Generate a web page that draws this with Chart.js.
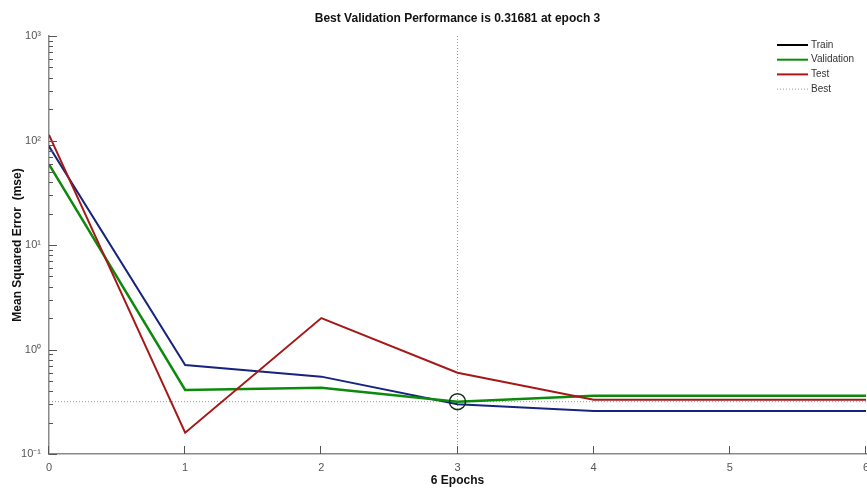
<!DOCTYPE html>
<html>
<head>
<meta charset="utf-8">
<script src="https://cdn.jsdelivr.net/npm/chart.js@4"></script>
<style>
  html, body { margin: 0; padding: 0; background: #fff; }
  canvas { display: block; }
</style>
</head>
<body>
<canvas id="perfChart" width="867" height="488"></canvas>
<script>
// data
const epochs = [0, 1, 2, 3, 4, 5, 6]
const trainPerf = [88, 0.71, 0.55, 0.30, 0.258, 0.258, 0.258]
const valPerf = [59, 0.41, 0.43, 0.31681, 0.36, 0.36, 0.36]
const testPerf = [113, 0.16, 2.0, 0.60, 0.33, 0.33, 0.33]
const bestEpoch = 3
const bestPerf = 0.31681
const yMin = 0.1
const yMax = 1000
const legendNames = ['Train', 'Validation', 'Test', 'Best']

const fontFam = "'Liberation Sans', Arial, sans-serif"
const axisGrey = '#8a8a8a'
const sup = { '-': '\u207B', '0': '\u2070', '1': '\u00B9', '2': '\u00B2', '3': '\u00B3' }

const pts = (ys) => epochs.map((e, i) => ({ x: e, y: ys[i] }))

// MATLAB style ticks pointing into the plot
const innerTicks = {
    id: 'innerTicks',
    afterDraw(chart) {
        const c = chart.ctx
        const a = chart.chartArea
        const ys = chart.scales.y
        const xs = chart.scales.x
        c.save()
        c.strokeStyle = '#555'
        c.lineWidth = 1
        c.beginPath()
        ys.ticks.forEach(t => {
            const p = Math.round(ys.getPixelForValue(t.value)) + 0.5
            const major = Math.abs(Math.log10(t.value) - Math.round(Math.log10(t.value))) < 1e-6
            c.moveTo(a.left, p)
            c.lineTo(a.left + (major ? 8 : 4), p)
        })
        xs.ticks.forEach(t => {
            const p = Math.round(xs.getPixelForValue(t.value)) - 0.5
            c.moveTo(p, a.bottom)
            c.lineTo(p, a.bottom - 8)
        })
        c.stroke()
        c.restore()
    }
}

const boxLegend = {
    id: 'boxLegend',
    afterDraw(chart) {
        const c = chart.ctx
        const a = chart.chartArea
        const cols = ['#000000', '#0c8a0c', '#b01515', '#999999']
        c.save()
        c.font = '10px ' + fontFam
        c.textBaseline = 'middle'
        legendNames.forEach((n, i) => {
            const y = a.top + 9 + i * 14.7
            c.beginPath()
            c.strokeStyle = cols[i]
            c.lineWidth = i == 3 ? 1 : 2
            c.setLineDash(i == 3 ? [1, 2] : [])
            c.moveTo(a.right - 89, y)
            c.lineTo(a.right - 58, y)
            c.stroke()
            c.fillStyle = '#333'
            c.fillText(n, a.right - 55, y)
        })
        c.restore()
    }
}

new Chart(document.getElementById('perfChart'), {
    type: 'line',
    data: {
        datasets: [
            {
                label: 'BestPoint',
                data: [{ x: bestEpoch, y: bestPerf }],
                showLine: false,
                pointRadius: 8,
                pointBorderWidth: 1.5,
                pointBorderColor: '#103010',
                pointBackgroundColor: 'rgba(0,0,0,0)',
                order: 0
            },
            {
                label: 'Test',
                data: pts(testPerf),
                borderColor: '#a51818',
                borderWidth: 2,
                pointRadius: 0,
                order: 1
            },
            {
                label: 'Validation',
                data: pts(valPerf),
                borderColor: '#0c8a0c',
                borderWidth: 2.5,
                pointRadius: 0,
                order: 2
            },
            {
                label: 'Train',
                data: pts(trainPerf),
                borderColor: '#16247e',
                borderWidth: 2,
                pointRadius: 0,
                order: 3
            },
            {
                label: 'Best',
                data: [{ x: epochs[0], y: bestPerf }, { x: epochs[epochs.length - 1], y: bestPerf }],
                borderColor: '#9a9a9a',
                borderWidth: 1,
                borderDash: [1, 2],
                pointRadius: 0,
                order: 4
            },
            {
                label: 'BestV',
                data: [{ x: bestEpoch, y: yMin }, { x: bestEpoch, y: yMax }],
                borderColor: '#9a9a9a',
                borderWidth: 1,
                borderDash: [1, 2],
                pointRadius: 0,
                order: 4
            }
        ]
    },
    options: {
        responsive: false,
        animation: false,
        layout: { autoPadding: false, padding: { left: 0, right: 1, bottom: 0, top: 0 } },
        plugins: {
            legend: { display: false },
            tooltip: { enabled: false },
            title: {
                display: true,
                text: 'Best Validation Performance is ' + bestPerf + ' at epoch ' + bestEpoch,
                fullSize: false,
                color: '#111',
                font: { family: fontFam, size: 12, weight: 'bold' },
                padding: { top: 11, bottom: 10.6 }
            }
        },
        scales: {
            x: {
                type: 'linear',
                min: 0,
                max: 6,
                ticks: {
                    stepSize: 1,
                    color: '#555',
                    padding: 7,
                    maxRotation: 0,
                    font: { family: fontFam, size: 11 }
                },
                grid: { drawOnChartArea: false, drawTicks: false },
                border: { color: axisGrey, width: 1.5 },
                title: {
                    display: true,
                    text: epochs[epochs.length - 1] + ' Epochs',
                    color: '#111',
                    padding: { top: 0, bottom: 0 },
                    font: { family: fontFam, size: 12, weight: 'bold' }
                },
                afterFit(s) {
                    s.height = 34
                    s.paddingLeft = 0
                    s.paddingRight = 0
                }
            },
            y: {
                type: 'logarithmic',
                min: yMin,
                max: yMax,
                afterBuildTicks(s) {
                    const t = []
                    for (let e = -1; e < 3; e++) {
                        for (let m = 1; m < 10; m++) t.push({ value: m * Math.pow(10, e) })
                    }
                    t.push({ value: yMax })
                    s.ticks = t
                },
                ticks: {
                    color: '#555',
                    padding: 8,
                    autoSkip: false,
                    font: { family: fontFam, size: 11 },
                    callback(v) {
                        const l = Math.log10(v)
                        if (Math.abs(l - Math.round(l)) > 1e-6) return ''
                        return '10' + String(Math.round(l)).split('').map(ch => sup[ch]).join('')
                    }
                },
                grid: { drawOnChartArea: false, drawTicks: false },
                border: { color: axisGrey, width: 1.5 },
                title: {
                    display: true,
                    text: 'Mean Squared Error  (mse)',
                    color: '#111',
                    padding: { top: 10, bottom: 0 },
                    font: { family: fontFam, size: 12, weight: 'bold' }
                },
                afterFit(s) {
                    s.width = 49
                    s.paddingTop = 0
                    s.paddingBottom = 0
                }
            }
        }
    },
    plugins: [innerTicks, boxLegend]
})
</script>
</body>
</html>
